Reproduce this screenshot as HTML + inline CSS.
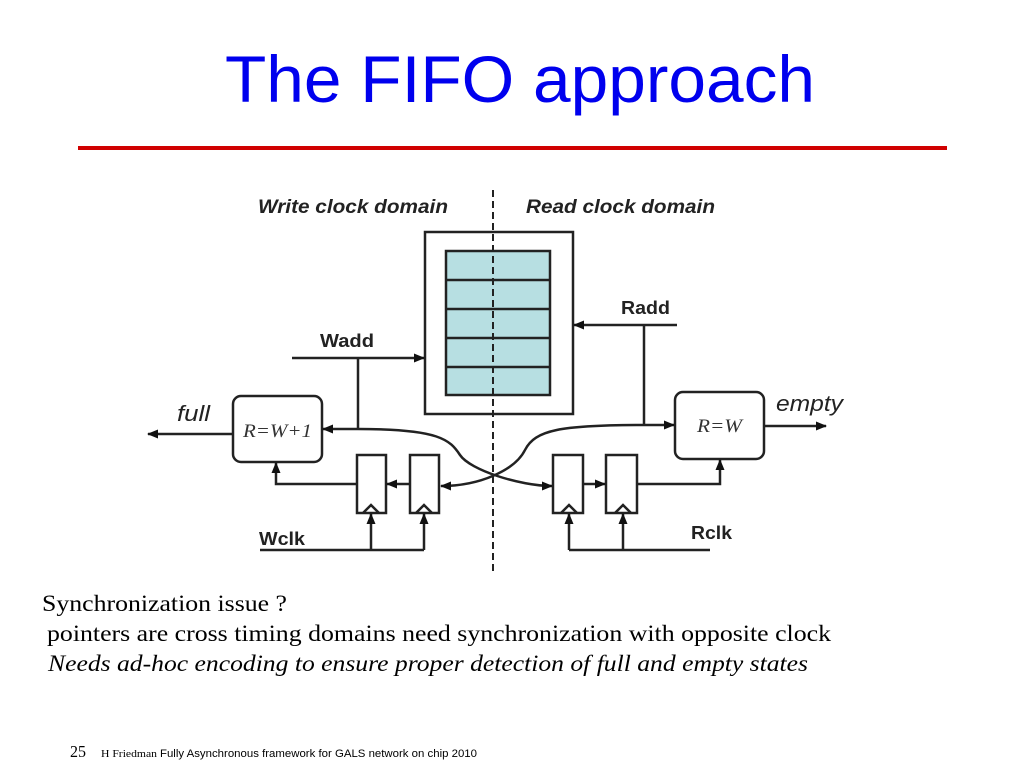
<!DOCTYPE html>
<html><head><meta charset="utf-8"><style>
body{margin:0;background:#fff;}
svg{display:block}
</style></head><body>
<svg width="1024" height="768" viewBox="0 0 1024 768" xmlns="http://www.w3.org/2000/svg">
<defs>
<marker id="a" markerWidth="11" markerHeight="9" refX="10" refY="4.5" orient="auto" markerUnits="userSpaceOnUse"><path d="M0,0 L11,4.5 L0,9 z" fill="#111"/></marker>
</defs>
<text x="225" y="102" font-family="'Liberation Sans', sans-serif" font-size="66" fill="#0000ee" textLength="590" lengthAdjust="spacingAndGlyphs">The FIFO approach</text>
<rect x="78" y="146" width="869" height="4" fill="#d00000"/>
<g font-family="'Liberation Sans', sans-serif" font-weight="bold" font-style="italic" font-size="19" fill="#222">
<text x="258" y="213" textLength="190" lengthAdjust="spacingAndGlyphs">Write clock domain</text>
<text x="526" y="213" textLength="189" lengthAdjust="spacingAndGlyphs">Read clock domain</text>
</g>
<g stroke="#222" stroke-width="2.5" fill="none">
<rect x="425" y="232" width="148" height="182" fill="#fff"/>
<rect x="446" y="251" width="104" height="144" fill="#b7dfe2"/>
<line x1="446" y1="280" x2="550" y2="280"/>
<line x1="446" y1="309" x2="550" y2="309"/>
<line x1="446" y1="338" x2="550" y2="338"/>
<line x1="446" y1="367" x2="550" y2="367"/>
<line x1="292" y1="358" x2="424" y2="358" marker-end="url(#a)"/>
<line x1="358" y1="358" x2="358" y2="429"/>
<line x1="677" y1="325" x2="574" y2="325" marker-end="url(#a)"/>
<line x1="644" y1="325" x2="644" y2="425"/>
<rect x="233" y="396" width="89" height="66" rx="8" fill="#fff"/>
<rect x="675" y="392" width="89" height="67" rx="8" fill="#fff"/>
<line x1="233" y1="434" x2="148" y2="434" marker-end="url(#a)"/>
<line x1="764" y1="426" x2="826" y2="426" marker-end="url(#a)"/>
<path d="M358,429 L323,429" marker-end="url(#a)"/>
<path d="M358,429 C440,429 450,440 460,455 C470,470 520,486 552,486" marker-end="url(#a)"/>
<path d="M644,425 C560,425 535,430 525,450 C515,470 480,486 441,486" marker-end="url(#a)"/>
<path d="M644,425 L674,425" marker-end="url(#a)"/>
<rect x="357" y="455" width="29" height="58" fill="#fff"/>
<rect x="410" y="455" width="29" height="58" fill="#fff"/>
<rect x="553" y="455" width="30" height="58" fill="#fff"/>
<rect x="606" y="455" width="31" height="58" fill="#fff"/>
<path d="M363,513 L371,505 L379,513 M416,513 L424,505 L432,513 M561,513 L569,505 L577,513 M615,513 L623,505 L631,513"/>
<line x1="410" y1="484" x2="387" y2="484" marker-end="url(#a)"/>
<path d="M357,484 L276,484 L276,463" marker-end="url(#a)"/>
<line x1="583" y1="484" x2="605" y2="484" marker-end="url(#a)"/>
<path d="M637,484 L720,484 L720,460" marker-end="url(#a)"/>
<line x1="260" y1="550" x2="424" y2="550"/>
<line x1="371" y1="550" x2="371" y2="514" marker-end="url(#a)"/>
<line x1="424" y1="550" x2="424" y2="514" marker-end="url(#a)"/>
<line x1="569" y1="550" x2="710" y2="550"/>
<line x1="569" y1="550" x2="569" y2="514" marker-end="url(#a)"/>
<line x1="623" y1="550" x2="623" y2="514" marker-end="url(#a)"/>
<line x1="493" y1="190" x2="493" y2="574" stroke-width="2" stroke-dasharray="7,4"/>
</g>
<g font-family="'Liberation Sans', sans-serif" font-weight="bold" font-size="18" fill="#222">
<text x="320" y="347" textLength="54" lengthAdjust="spacingAndGlyphs">Wadd</text>
<text x="621" y="314" textLength="49" lengthAdjust="spacingAndGlyphs">Radd</text>
<text x="259" y="545" textLength="46" lengthAdjust="spacingAndGlyphs">Wclk</text>
<text x="691" y="539" textLength="41" lengthAdjust="spacingAndGlyphs">Rclk</text>
</g>
<g font-family="'Liberation Sans', sans-serif" font-style="italic" font-size="22" fill="#222">
<text x="177" y="421" textLength="33" lengthAdjust="spacingAndGlyphs">full</text>
<text x="776" y="411" textLength="67" lengthAdjust="spacingAndGlyphs">empty</text>
</g>
<g font-family="'Liberation Serif', serif" font-style="italic" font-size="19" fill="#333">
<text x="243" y="437" textLength="69" lengthAdjust="spacingAndGlyphs">R=W+1</text>
<text x="697" y="432" textLength="45" lengthAdjust="spacingAndGlyphs">R=W</text>
</g>
<g font-family="'Liberation Serif', serif" font-size="23" fill="#000">
<text x="42" y="611" textLength="245" lengthAdjust="spacingAndGlyphs">Synchronization issue ?</text>
<text x="47" y="641" textLength="784" lengthAdjust="spacingAndGlyphs">pointers are cross timing domains  need synchronization with opposite clock</text>
<text x="48" y="671" font-style="italic" textLength="760" lengthAdjust="spacingAndGlyphs">Needs ad-hoc encoding to ensure proper detection of full and empty states</text>
<text x="70" y="757" font-size="17" textLength="16" lengthAdjust="spacingAndGlyphs">25</text>
<text x="101" y="757" font-size="11" textLength="56" lengthAdjust="spacingAndGlyphs">H Friedman</text>
</g>
<text x="160" y="757" font-family="'Liberation Sans', sans-serif" font-size="11" fill="#000" textLength="317" lengthAdjust="spacingAndGlyphs">Fully Asynchronous framework for GALS network on chip 2010</text>
</svg>
</body></html>
